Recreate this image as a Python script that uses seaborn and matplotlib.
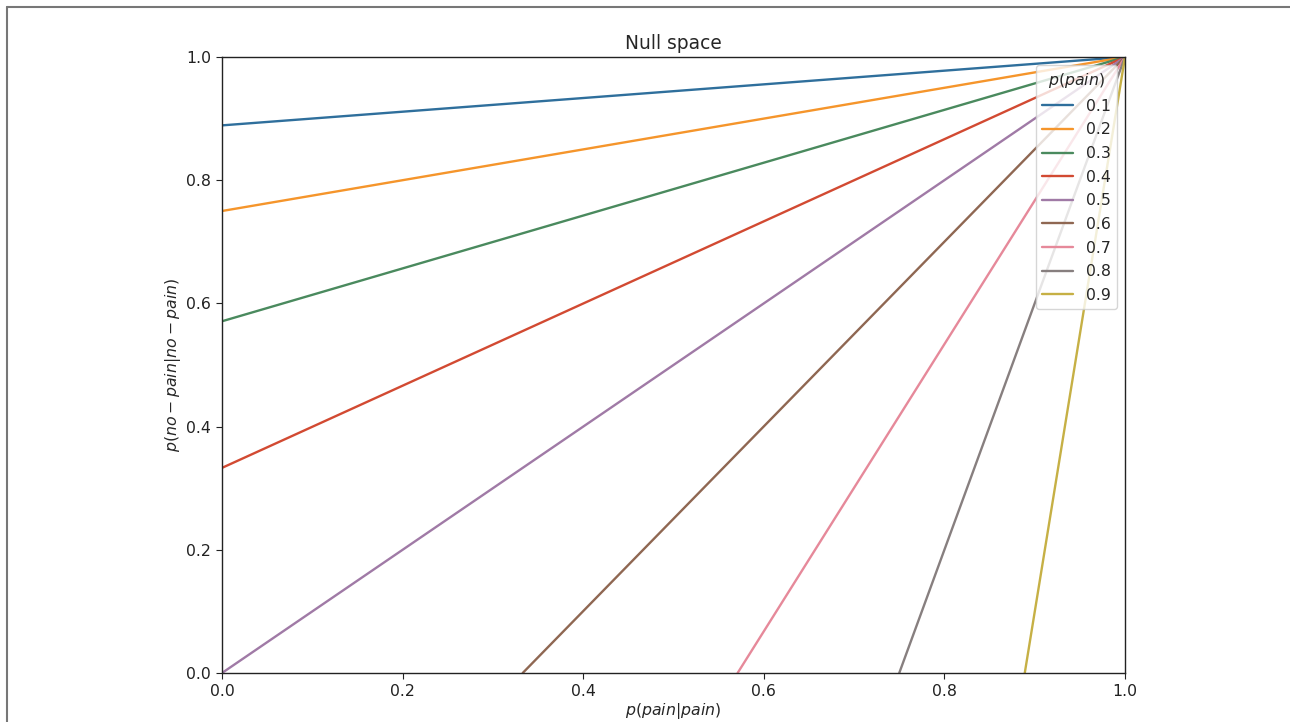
import matplotlib
matplotlib.use("Agg")
import matplotlib.pyplot as plt
import seaborn as sns
import pandas as pd
from matplotlib.lines import Line2D

# Data: each line runs from a start point to (1, 1)
p_pain = ["0.1", "0.2", "0.3", "0.4", "0.5", "0.6", "0.7", "0.8", "0.9"]
start_x = [0.0, 0.0, 0.0, 0.0, 0.0, 0.333, 0.571, 0.75, 0.889]
start_y = [0.889, 0.75, 0.571, 0.333, 0.0, 0.0, 0.0, 0.0, 0.0]
end_x = [1.0] * 9
end_y = [1.0] * 9

colors = ["#2f6f9c", "#f5952b", "#4a8a5e", "#d24a32", "#a07aa6",
          "#8f6752", "#e6899a", "#877f7f", "#c6b045"]

rows = []
for p, x0, y0, x1, y1 in zip(p_pain, start_x, start_y, end_x, end_y):
    rows.append({"p": p, "x": x0, "y": y0})
    rows.append({"p": p, "x": x1, "y": y1})
df = pd.DataFrame(rows)

sns.set_style("ticks")
plt.rcParams["font.family"] = ["DejaVu Sans"]

fig = plt.figure(figsize=(12.9, 7.22), dpi=100)
ax = fig.add_axes([222 / 1290, 1 - 673 / 722, (1125 - 222) / 1290, (673 - 57) / 722])

sns.lineplot(data=df, x="x", y="y", hue="p", palette=colors, estimator=None,
             units="p", sort=False, linewidth=1.7, ax=ax)

ax.set_xlim(0, 1)
ax.set_ylim(0, 1)
ax.set_xticks([0, 0.2, 0.4, 0.6, 0.8, 1.0])
ax.set_yticks([0, 0.2, 0.4, 0.6, 0.8, 1.0])
ax.tick_params(labelsize=11.3, colors="#222222", length=4.5)
for s in ax.spines.values():
    s.set_color("#222222")
    s.set_linewidth(1.0)
ax.set_title("Null space", fontsize=13.4)
ax.set_xlabel("$p(pain|pain)$", fontsize=11.3, labelpad=1.5)
ax.set_ylabel("$p(no-pain|no-pain)$", fontsize=11.3, labelpad=2)

leg = ax.legend(title="$p(pain)$", loc="upper right", fontsize=11.3,
                title_fontsize=11.3, framealpha=0.8, labelspacing=0.55)

# outer frame (top and left edges visible)
fig.add_artist(Line2D([7 / 1290, 1.0], [1 - 7 / 722, 1 - 7 / 722],
                      transform=fig.transFigure, color="#777777", linewidth=1.5))
fig.add_artist(Line2D([7 / 1290, 7 / 1290], [0.0, 1 - 7 / 722],
                      transform=fig.transFigure, color="#777777", linewidth=1.5))

fig.savefig("out.png", dpi=100)
